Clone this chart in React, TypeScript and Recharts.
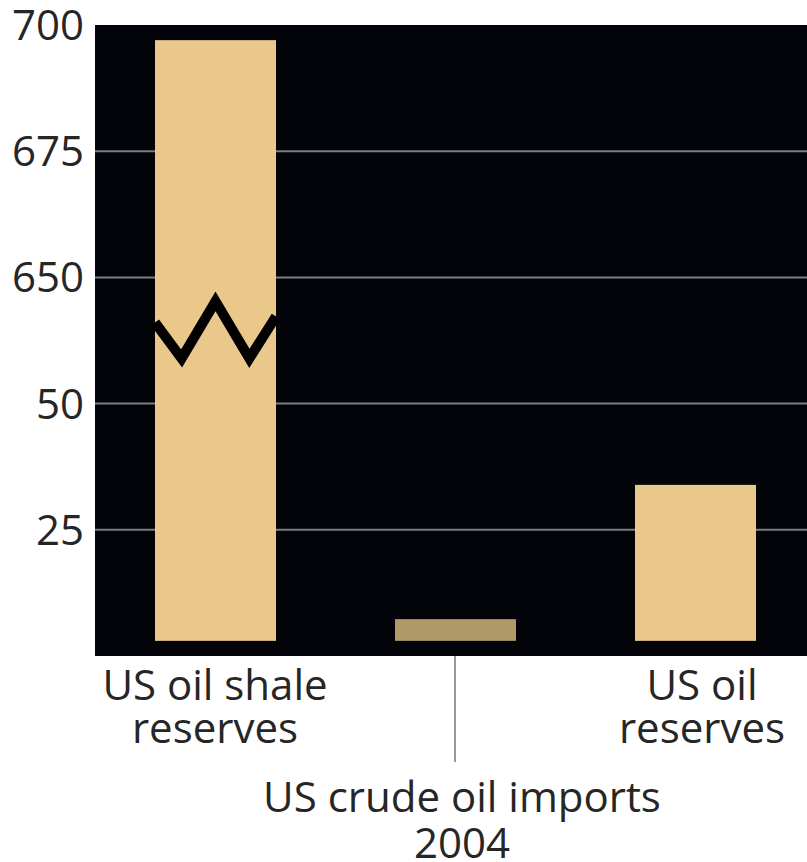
import { BarChart, Bar, XAxis, YAxis, CartesianGrid, Cell } from 'recharts';

const categories = ['US oil shale reserves', 'US crude oil imports 2004', 'US oil reserves'];
const labelLines = [
  ['US oil shale', 'reserves'],
  ['US crude oil imports', '2004'],
  ['US oil', 'reserves'],
];
const barBase = [3, 3, 3];
const barTop = [122, 7.3, 33.9];
const barColors = ['#eac88c', '#b09a68', '#eac88c'];

// broken axis: linear positions and the labels shown at them
const yTicks = [25, 50, 75, 100, 125];
const yTickLabels = ['25', '50', '650', '675', '700'];
const breakValue = 64.5;

const data = categories.map((name, i) => ({
  name,
  range: [barBase[i], barTop[i]],
}));

const FONT = '"Open Sans", sans-serif';

function BarShape(props: any) {
  const { x, y, width, height, index, fill } = props;
  const rect = <rect x={x} y={y} width={width} height={height} fill={fill} />;
  if (index !== 0) return rect;
  const ppu = height / (barTop[0] - barBase[0]);
  const by = y + (barTop[0] - breakValue) * ppu;
  const pts = [
    [x, by - 8],
    [x + width * 0.22, by + 28],
    [x + width * 0.5, by - 29],
    [x + width * 0.78, by + 28],
    [x + width, by - 14],
  ]
    .map((p) => p.join(','))
    .join(' ');
  return (
    <g>
      {rect}
      <polyline points={pts} fill="none" stroke="#000" strokeWidth={10} strokeLinejoin="miter" />
    </g>
  );
}

function XTick(props: any) {
  const { x, y, index } = props;
  const lines = labelLines[index];
  if (index === 1) {
    return (
      <g>
        <line x1={x} y1={y} x2={x} y2={y + 106} stroke="#9a9a9a" strokeWidth={2} />
        <text x={x + 7} y={y + 156} textAnchor="middle" fontSize={42} fontFamily={FONT} fill="#262626">
          {lines[0]}
        </text>
        <text x={x + 7} y={y + 202} textAnchor="middle" fontSize={42} fontFamily={FONT} fill="#262626">
          {lines[1]}
        </text>
      </g>
    );
  }
  const dx = index === 2 ? 7 : 0;
  return (
    <g>
      <text x={x + dx} y={y + 44} textAnchor="middle" fontSize={42} fontFamily={FONT} fill="#262626">
        {lines[0]}
      </text>
      <text x={x + dx} y={y + 87} textAnchor="middle" fontSize={42} fontFamily={FONT} fill="#262626">
        {lines[1]}
      </text>
    </g>
  );
}

export default function App() {
  return (
    <div
      style={{
        position: 'absolute',
        left: 0,
        top: 0,
        width: 807,
        height: 862,
        overflow: 'hidden',
        background: '#fff',
      }}
    >
      <BarChart
        width={815}
        height={862}
        data={data}
        margin={{ top: 25, right: 0, left: 0, bottom: 0 }}
        barCategoryGap={0}
      >
        <CartesianGrid
          vertical={false}
          horizontalValues={[25, 50, 75, 100]}
          stroke="#7c7c84"
          strokeWidth={2}
          fill="#03030a"
          fillOpacity={1}
        />
        <XAxis
          dataKey="name"
          height={206}
          axisLine={false}
          tickLine={false}
          tickSize={0}
          tickMargin={0}
          interval={0}
          tick={<XTick />}
        />
        <YAxis
          type="number"
          domain={[0, 125]}
          ticks={yTicks}
          width={95}
          axisLine={false}
          tickLine={false}
          tickMargin={5}
          tickFormatter={(v: number) => yTickLabels[yTicks.indexOf(v)]}
          tick={{ fontSize: 42, fontFamily: FONT, fill: '#262626' }}
        />
        <Bar dataKey="range" barSize={121} isAnimationActive={false} shape={<BarShape />}>
          {data.map((_, i) => (
            <Cell key={i} fill={barColors[i]} />
          ))}
        </Bar>
      </BarChart>
    </div>
  );
}
